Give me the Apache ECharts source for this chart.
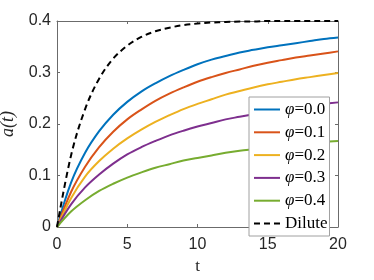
<!DOCTYPE html>
<html>
<head>
<meta charset="utf-8">
<script src="https://cdn.jsdelivr.net/npm/echarts@6/dist/echarts.min.js"></script>
<style>
html,body{margin:0;padding:0;background:#fff;}
#c{width:374px;height:280px;}
</style>
</head>
<body>
<div id="c"></div>
<script>
const T = [0,1,2,3,4,5,6,7,8,9,10,11,12,13,14,15,16,17,18,19,20];
const phi00 = [0,0.086,0.144,0.186,0.218,0.243,0.263,0.279,0.293,0.305,0.316,0.325,0.332,0.339,0.344,0.349,0.353,0.357,0.361,0.365,0.368];
const phi01 = [0,0.068,0.117,0.155,0.185,0.209,0.228,0.245,0.259,0.271,0.282,0.291,0.299,0.306,0.313,0.319,0.324,0.329,0.333,0.337,0.341];
const phi02 = [0,0.056,0.098,0.128,0.152,0.172,0.189,0.204,0.217,0.229,0.239,0.248,0.257,0.264,0.271,0.277,0.282,0.287,0.291,0.295,0.299];
const phi03 = [0,0.044,0.077,0.102,0.123,0.141,0.155,0.167,0.178,0.187,0.195,0.202,0.209,0.214,0.219,0.224,0.228,0.232,0.236,0.239,0.242];
const phi04 = [0,0.030,0.052,0.070,0.084,0.096,0.106,0.115,0.122,0.129,0.134,0.139,0.144,0.148,0.151,0.154,0.157,0.160,0.163,0.165,0.167];
const dilute = [0,0.139,0.229,0.288,0.327,0.352,0.369,0.380,0.387,0.392,0.395,0.397,0.398,0.399,0.399,0.400,0.400,0.400,0.400,0.400,0.400];
const seriesNames = ['φ=0.0','φ=0.1','φ=0.2','φ=0.3','φ=0.4','Dilute'];
const seriesValues = [phi00, phi01, phi02, phi03, phi04, dilute];
const colors = ['#0072BD','#D95319','#EDB120','#7E2F8E','#77AC30','#000000'];
const xTicks = [0,5,10,15,20];
const yTicks = [0,0.1,0.2,0.3,0.4];

const axisColor = '#6b6b6b';
const labelFont = {fontFamily:'Liberation Sans', fontSize:16, color:'#262626'};

const chart = echarts.init(document.getElementById('c'), null, {renderer:'canvas'});
const series = seriesValues.map((vals, i) => ({
  name: seriesNames[i],
  type: 'line',
  data: T.map((t, j) => [t, vals[j]]),
  showSymbol: false,
  symbol: 'none',
  smooth: 0.35,
  clip: false,
  z: i === 5 ? 3 : 2,
  lineStyle: {color: colors[i], width: 2, type: i === 5 ? [6,4] : 'solid'},
  itemStyle: {color: colors[i]}
}));

const legendFont = {fontFamily: 'Liberation Serif', fontSize: 17, color: '#000', lineHeight: 14};
const option = {
  animation: false,
  backgroundColor: '#fff',
  grid: {left: 57, right: 36, top: 21, bottom: 53, show: false, containLabel: false, outerBoundsMode: 'none'},
  legend: {
    orient: 'vertical',
    left: 249, top: 97,
    data: seriesNames,
    itemWidth: 26, itemHeight: 14, itemGap: 5.8,
    padding: [4, 2, 4, 4],
    backgroundColor: '#fff',
    borderColor: '#a0a0a0', borderWidth: 1,
    itemStyle: {opacity: 0, color: 'transparent', borderColor: 'transparent', borderWidth: 0},
    lineStyle: {width: 2},
    formatter: function(n){
      if (n.charAt(0) === 'φ') return '{i|φ}{e|=}{n|' + n.slice(2) + '}';
      return '{n|' + n + '}';
    },
    textStyle: Object.assign({
      rich: {
        i: Object.assign({}, legendFont, {fontStyle: 'italic'}),
        e: Object.assign({}, legendFont),
        n: Object.assign({}, legendFont)
      }
    }, legendFont)
  },
  xAxis: [{
    type: 'value', min: xTicks[0], max: xTicks[xTicks.length-1], interval: 5,
    position: 'bottom',
    name: 't', nameLocation: 'middle', nameGap: 30,
    nameTextStyle: {fontFamily: 'Liberation Serif', fontSize: 17, color: '#262626'},
    axisLine: {show: true, onZero: false, lineStyle: {color: axisColor, width: 1}},
    axisTick: {show: true, inside: true, length: 3, lineStyle: {color: axisColor}},
    axisLabel: Object.assign({margin: 10}, labelFont),
    splitLine: {show: false}
  },{
    type: 'value', min: xTicks[0], max: xTicks[xTicks.length-1], interval: 5,
    position: 'top',
    axisLine: {show: true, onZero: false, lineStyle: {color: axisColor, width: 1}},
    axisTick: {show: true, inside: true, length: 3, lineStyle: {color: axisColor}},
    axisLabel: {show: false},
    splitLine: {show: false}
  }],
  yAxis: [{
    type: 'value', min: yTicks[0], max: yTicks[yTicks.length-1], interval: 0.1,
    position: 'left',
    name: 'a(t)', nameLocation: 'middle', nameGap: 40, nameRotate: 90,
    nameTextStyle: {fontFamily: 'Liberation Serif', fontStyle: 'italic', fontSize: 18, color: '#262626'},
    axisLine: {show: true, onZero: false, lineStyle: {color: axisColor, width: 1}},
    axisTick: {show: true, inside: true, length: 3, lineStyle: {color: axisColor}},
    axisLabel: Object.assign({margin: 6, formatter: v => v === 0 ? '0' : v.toFixed(1)}, labelFont),
    splitLine: {show: false}
  },{
    type: 'value', min: yTicks[0], max: yTicks[yTicks.length-1], interval: 0.1,
    position: 'right',
    axisLine: {show: true, onZero: false, lineStyle: {color: axisColor, width: 1}},
    axisTick: {show: true, inside: true, length: 3, lineStyle: {color: axisColor}},
    axisLabel: {show: false},
    splitLine: {show: false}
  }],
  series: series
};
chart.setOption(option);
</script>
</body>
</html>
